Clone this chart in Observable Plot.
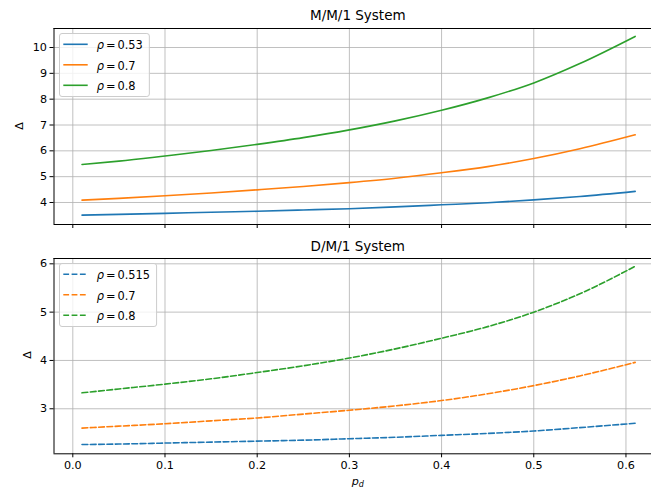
<!DOCTYPE html>
<html><head><meta charset="utf-8">
<script src="https://cdn.jsdelivr.net/npm/d3@7"></script>
<script src="https://cdn.jsdelivr.net/npm/@observablehq/plot@0.6"></script>
<style>
body{margin:0;background:#fff;}
#fig{position:relative;width:651px;height:490px;font-family:"DejaVu Sans",sans-serif;color:#000;overflow:hidden;background:#fff;}
#fig > svg{position:absolute;left:0;}
</style></head><body><div id="fig"></div>
<script>
// ---- data ----
const pd = [0.01, 0.05, 0.10, 0.15, 0.20, 0.25, 0.30, 0.35, 0.40, 0.45, 0.50, 0.55, 0.61];

const mm1Labels = ["0.53", "0.7", "0.8"];
const mm1_rho053 = [3.51, 3.54, 3.58, 3.62, 3.66, 3.71, 3.76, 3.83, 3.91, 3.99, 4.10, 4.23, 4.43];
const mm1_rho07  = [4.09, 4.16, 4.26, 4.37, 4.49, 4.62, 4.77, 4.94, 5.15, 5.39, 5.70, 6.08, 6.62];
const mm1_rho08  = [5.47, 5.60, 5.80, 6.01, 6.25, 6.51, 6.81, 7.16, 7.57, 8.05, 8.63, 9.38, 10.43];

const dm1Labels = ["0.515", "0.7", "0.8"];
const dm1_rho0515 = [2.26, 2.27, 2.29, 2.31, 2.33, 2.35, 2.38, 2.41, 2.45, 2.49, 2.54, 2.61, 2.70];
const dm1_rho07   = [2.60, 2.64, 2.69, 2.75, 2.81, 2.89, 2.97, 3.06, 3.17, 3.31, 3.48, 3.68, 3.96];
const dm1_rho08   = [3.33, 3.41, 3.51, 3.62, 3.75, 3.89, 4.05, 4.24, 4.46, 4.70, 5.00, 5.38, 5.95];

const xTicks = [0.0, 0.1, 0.2, 0.3, 0.4, 0.5, 0.6];
const mm1YTicks = [4, 5, 6, 7, 8, 9, 10];
const dm1YTicks = [3, 4, 5, 6];
const colors = ["#1f77b4", "#ff7f0e", "#2ca02c"];
const titles = ["M/M/1 System", "D/M/1 System"];

// ---- build ----
const fig = document.getElementById("fig");
const xDomain = [-0.0204, 0.6277];

function tidy(labels, arrays) {
  const out = [];
  labels.forEach((lab, i) => arrays[i].forEach((v, j) => out.push({x: pd[j], y: v, s: lab})));
  return out;
}

function panel({labels, arrays, yDomain, yTicks, top, height, marginTop, marginBottom, xLabels, dashed}) {
  const data = tidy(labels, arrays);
  const p = Plot.plot({
    width: 651, height, marginLeft: 53.5, marginRight: 0, marginTop, marginBottom,
    style: {fontFamily: "DejaVu Sans", fontSize: "11.2px", background: "transparent", color: "#000", overflow: "visible"},
    x: {domain: xDomain},
    y: {domain: yDomain},
    color: {domain: labels, range: colors},
    marks: [
      Plot.gridX(xTicks, {stroke: "#b0b0b0", strokeOpacity: 1, strokeWidth: 0.8}),
      Plot.gridY(yTicks, {stroke: "#b0b0b0", strokeOpacity: 1, strokeWidth: 0.8}),
      Plot.line(data, {x: "x", y: "y", z: "s", stroke: "s", strokeWidth: 1.6,
        strokeDasharray: dashed ? "5.8,2.5" : null, curve: "monotone-x"}),
      Plot.axisX(xTicks, {tickSize: 4, tickPadding: 3, label: null, stroke: "#000",
        tickFormat: xLabels ? (d => d.toFixed(1)) : (() => "")}),
      Plot.axisY(yTicks, {tickSize: 4, tickPadding: 3, label: null, stroke: "#000", tickFormat: d => String(d)}),
      Plot.ruleX([xDomain[0]], {stroke: "#000", strokeWidth: 1}),
      Plot.ruleY([yDomain[0], yDomain[1]], {stroke: "#000", strokeWidth: 1})
    ]
  });
  p.style.top = top + "px";
  fig.appendChild(p);
}

panel({labels: mm1Labels, arrays: [mm1_rho053, mm1_rho07, mm1_rho08], yDomain: [3.148, 10.736],
  yTicks: mm1YTicks, top: 0, height: 240, marginTop: 28, marginBottom: 16, xLabels: false, dashed: false});
panel({labels: dm1Labels, arrays: [dm1_rho0515, dm1_rho07, dm1_rho08], yDomain: [2.068, 6.11],
  yTicks: dm1YTicks, top: 240, height: 250, marginTop: 18, marginBottom: 36.7, xLabels: true, dashed: true});

// ---- overlay text: titles, axis labels, legends ----
const ov = d3.select(fig).append("svg").attr("width", 651).attr("height", 490)
  .style("top", "0px").style("font-family", "DejaVu Sans").attr("fill", "#000");

ov.append("text").attr("x", 357.8).attr("y", 20).attr("text-anchor", "middle").attr("font-size", 13.5).text(titles[0]);
ov.append("text").attr("x", 357.8).attr("y", 250.5).attr("text-anchor", "middle").attr("font-size", 13.5).text(titles[1]);

ov.append("text").attr("transform", "translate(22.7,126) rotate(-90)").attr("text-anchor", "middle").attr("font-size", 11.2).text("Δ");
ov.append("text").attr("transform", "translate(30.7,355) rotate(-90)").attr("text-anchor", "middle").attr("font-size", 11.2).text("Δ");

const xl = ov.append("text").attr("x", 357.8).attr("y", 485).attr("text-anchor", "middle").attr("font-size", 11.2);
xl.append("tspan").attr("font-style", "italic").text("p");
xl.append("tspan").attr("font-style", "italic").attr("font-size", 8).attr("dy", 2).text("d");

function legend(labels, dy, dashed) {
  const g = ov.append("g").attr("transform", `translate(0,${dy})`);
  const box = g.append("rect").attr("x", 59.5).attr("y", 33.5).attr("height", 63).attr("rx", 2.5)
    .attr("fill", "#fff").attr("fill-opacity", 0.8).attr("stroke", "#cccccc").attr("stroke-width", 1);
  let maxR = 0;
  labels.forEach((lab, i) => {
    const ly = 44.3 + i * 20.5;
    g.append("line").attr("x1", 63.3).attr("x2", 87.7).attr("y1", ly).attr("y2", ly)
      .attr("stroke", colors[i]).attr("stroke-width", 1.6).attr("stroke-dasharray", dashed ? "5.8,2.5" : null);
    const t = g.append("text").attr("x", 96.7).attr("y", ly + 4.8).attr("font-size", 11.4);
    t.append("tspan").attr("font-style", "italic").text("ρ");
    t.append("tspan").attr("dx", 2).text("=");
    t.append("tspan").attr("dx", 2).text(lab);
    const bb = t.node().getBBox();
    maxR = Math.max(maxR, bb.x + bb.width);
  });
  box.attr("width", maxR + 6.5 - 59.5);
}
legend(mm1Labels, 0, false);
legend(dm1Labels, 230, true);
</script></body></html>
